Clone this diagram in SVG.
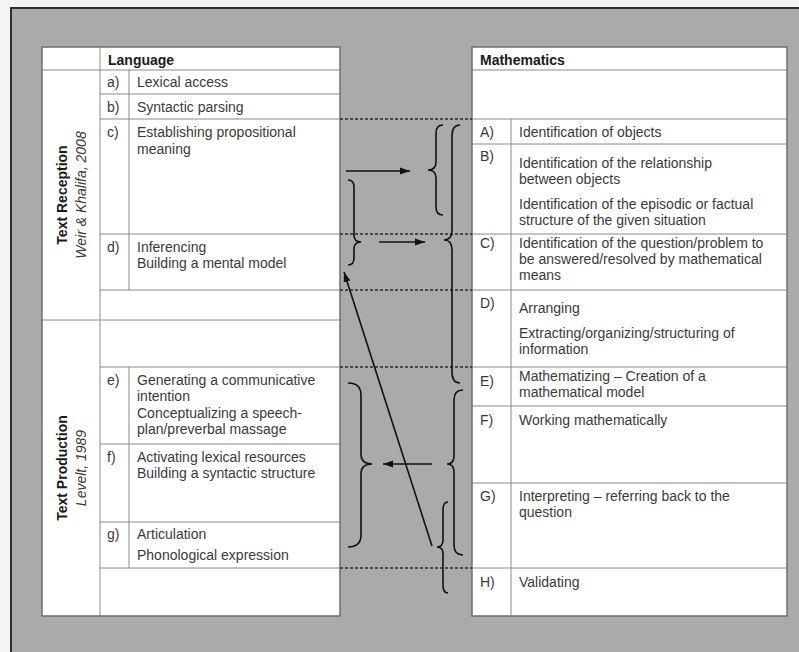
<svg xmlns="http://www.w3.org/2000/svg" width="799" height="652" viewBox="0 0 799 652">
  <defs>
    <style>
      text { font-family: "Liberation Sans", Arial, sans-serif; font-size: 14px; fill: #3a3a3a; }
      .hd { font-weight: bold; fill: #1a1a1a; }
      .sec { font-weight: bold; fill: #1a1a1a; text-anchor: middle; }
      .src { font-style: italic; text-anchor: middle; }
      .cell { fill: #ffffff; stroke: #8a8a8a; stroke-width: 1; }
      .frame { fill: none; stroke: #6f6f6f; stroke-width: 1.5; }
      .rule { stroke: #8a8a8a; stroke-width: 1; fill: none; }
      .dash { stroke: #2a2a2a; stroke-width: 1.5; stroke-dasharray: 3 2; fill: none; }
      .brace { stroke: #111111; stroke-width: 1.6; fill: none; }
      .arrow { stroke: #111111; stroke-width: 1.6; fill: none; marker-end: url(#head); }
    </style>
    <marker id="head" markerUnits="userSpaceOnUse" markerWidth="11" markerHeight="8" refX="10" refY="4" orient="auto">
      <path d="M0,0.5 L10,4 L0,7.5 z" fill="#111111"/>
    </marker>
  </defs>

  <!-- page background and slide frame -->
  <rect x="0" y="0" width="799" height="652" fill="#f4f4f4"/>
  <rect x="11" y="8" width="800" height="660" fill="#aaaaaa" stroke="#2e2e2e" stroke-width="2"/>

  <!-- Language table -->
  <g id="language-table">
    <rect x="42" y="47" width="298" height="569" fill="#ffffff"/>
    <!-- horizontal rules -->
    <line class="rule" x1="42" y1="70" x2="340" y2="70"/>
    <line class="rule" x1="100" y1="94" x2="340" y2="94"/>
    <line class="rule" x1="100" y1="119" x2="340" y2="119"/>
    <line class="rule" x1="100" y1="234" x2="340" y2="234"/>
    <line class="rule" x1="100" y1="290" x2="340" y2="290"/>
    <line class="rule" x1="42" y1="320" x2="340" y2="320"/>
    <line class="rule" x1="100" y1="367" x2="340" y2="367"/>
    <line class="rule" x1="100" y1="444" x2="340" y2="444"/>
    <line class="rule" x1="100" y1="522" x2="340" y2="522"/>
    <line class="rule" x1="100" y1="568" x2="340" y2="568"/>
    <!-- vertical rules -->
    <line class="rule" x1="100" y1="47" x2="100" y2="616"/>
    <line class="rule" x1="129" y1="70" x2="129" y2="290"/>
    <line class="rule" x1="129" y1="367" x2="129" y2="568"/>
    <rect class="frame" x="42" y="47" width="298" height="569"/>
    <text class="hd" x="108" y="65">Language</text>
  </g>

  <g id="text-reception">
    <text class="sec" transform="translate(67,195) rotate(-90)">Text Reception</text>
    <text class="src" transform="translate(86,195) rotate(-90)">Weir &amp; Khalifa, 2008</text>
  </g>
  <g id="text-production">
    <text class="sec" transform="translate(67,468) rotate(-90)">Text Production</text>
    <text class="src" transform="translate(86,468) rotate(-90)">Levelt, 1989</text>
  </g>

  <g id="lang-a">
    <text x="107" y="87">a)</text>
    <text x="137" y="87">Lexical access</text>
  </g>
  <g id="lang-b">
    <text x="107" y="112">b)</text>
    <text x="137" y="112">Syntactic parsing</text>
  </g>
  <g id="lang-c">
    <text x="107" y="137">c)</text>
    <text x="137" y="137">Establishing propositional</text>
    <text x="137" y="154">meaning</text>
  </g>
  <g id="lang-d">
    <text x="107" y="252">d)</text>
    <text x="137" y="252">Inferencing</text>
    <text x="137" y="268">Building a mental model</text>
  </g>
  <g id="lang-e">
    <text x="107" y="385">e)</text>
    <text x="137" y="385">Generating a communicative</text>
    <text x="137" y="401">intention</text>
    <text x="137" y="418">Conceptualizing a speech-</text>
    <text x="137" y="434">plan/preverbal massage</text>
  </g>
  <g id="lang-f">
    <text x="107" y="462">f)</text>
    <text x="137" y="462">Activating lexical resources</text>
    <text x="137" y="478">Building a syntactic structure</text>
  </g>
  <g id="lang-g">
    <text x="107" y="539">g)</text>
    <text x="137" y="539">Articulation</text>
    <text x="137" y="560">Phonological expression</text>
  </g>

  <!-- Mathematics table -->
  <g id="math-table">
    <rect x="472" y="47" width="315" height="569" fill="#ffffff"/>
    <line class="rule" x1="472" y1="70" x2="787" y2="70"/>
    <line class="rule" x1="472" y1="119" x2="787" y2="119"/>
    <line class="rule" x1="472" y1="144" x2="787" y2="144"/>
    <line class="rule" x1="472" y1="234" x2="787" y2="234"/>
    <line class="rule" x1="472" y1="290" x2="787" y2="290"/>
    <line class="rule" x1="472" y1="367" x2="787" y2="367"/>
    <line class="rule" x1="472" y1="406" x2="787" y2="406"/>
    <line class="rule" x1="472" y1="483" x2="787" y2="483"/>
    <line class="rule" x1="472" y1="568" x2="787" y2="568"/>
    <line class="rule" x1="511" y1="119" x2="511" y2="616"/>
    <rect class="frame" x="472" y="47" width="315" height="569"/>
    <text class="hd" x="480" y="65">Mathematics</text>
  </g>

  <g id="math-A">
    <text x="480" y="137">A)</text>
    <text x="519" y="137">Identification of objects</text>
  </g>
  <g id="math-B">
    <text x="480" y="161">B)</text>
    <text x="519" y="168">Identification of the relationship</text>
    <text x="519" y="184">between objects</text>
    <text x="519" y="209">Identification of the episodic or factual</text>
    <text x="519" y="225">structure of the given situation</text>
  </g>
  <g id="math-C">
    <text x="480" y="248">C)</text>
    <text x="519" y="248">Identification of the question/problem to</text>
    <text x="519" y="264">be answered/resolved by mathematical</text>
    <text x="519" y="280">means</text>
  </g>
  <g id="math-D">
    <text x="480" y="308">D)</text>
    <text x="519" y="313">Arranging</text>
    <text x="519" y="338">Extracting/organizing/structuring of</text>
    <text x="519" y="354">information</text>
  </g>
  <g id="math-E">
    <text x="480" y="386">E)</text>
    <text x="519" y="381">Mathematizing – Creation of a</text>
    <text x="519" y="397">mathematical model</text>
  </g>
  <g id="math-F">
    <text x="480" y="425">F)</text>
    <text x="519" y="425">Working mathematically</text>
  </g>
  <g id="math-G">
    <text x="480" y="501">G)</text>
    <text x="519" y="501">Interpreting – referring back to the</text>
    <text x="519" y="517">question</text>
  </g>
  <g id="math-H">
    <text x="480" y="587">H)</text>
    <text x="519" y="587">Validating</text>
  </g>

  <!-- connectors: row boundaries, braces and arrows between the tables -->
  <g id="connectors">
    <line class="dash" x1="340" y1="119" x2="472" y2="119"/>
    <line class="dash" x1="340" y1="234" x2="472" y2="234"/>
    <line class="dash" x1="340" y1="290" x2="472" y2="290"/>
    <line class="dash" x1="340" y1="367" x2="472" y2="367"/>
    <line class="dash" x1="340" y1="568" x2="472" y2="568"/>

    <path class="brace" d="M443,125 Q436,125 436,133 L436,162 Q436,170 428,170 Q436,170 436,178 L436,207 Q436,215 443,215"/>
    <path class="brace" d="M460,125 Q452,125 452,136 L452,230 Q452,240 444,240 Q452,240 452,250 L452,372 Q452,383 460,383"/>
    <path class="brace" d="M348,180 Q354,180 354,187 L354,235 Q354,242 361,242 Q354,242 354,249 L354,258 Q354,265 348,265"/>
    <path class="brace" d="M348,383 Q361,383 361,395 L361,454 Q361,464 372,464 Q361,464 361,474 L361,535 Q361,547 348,547"/>
    <path class="brace" d="M463,390 Q454,390 454,400 L454,456 Q454,464 447,464 Q454,464 454,472 L454,545 Q454,555 463,555"/>
    <path class="brace" d="M448,502 Q443,502 443,510 L443,540 Q443,547 437,547 Q443,547 443,554 L443,585 Q443,593 448,593"/>

    <line class="arrow" x1="346" y1="171" x2="410" y2="171"/>
    <line class="arrow" x1="379" y1="242" x2="425" y2="242"/>
    <line class="arrow" x1="432" y1="464" x2="383" y2="464"/>
    <line class="arrow" x1="432" y1="546" x2="344" y2="272"/>
  </g>
</svg>
